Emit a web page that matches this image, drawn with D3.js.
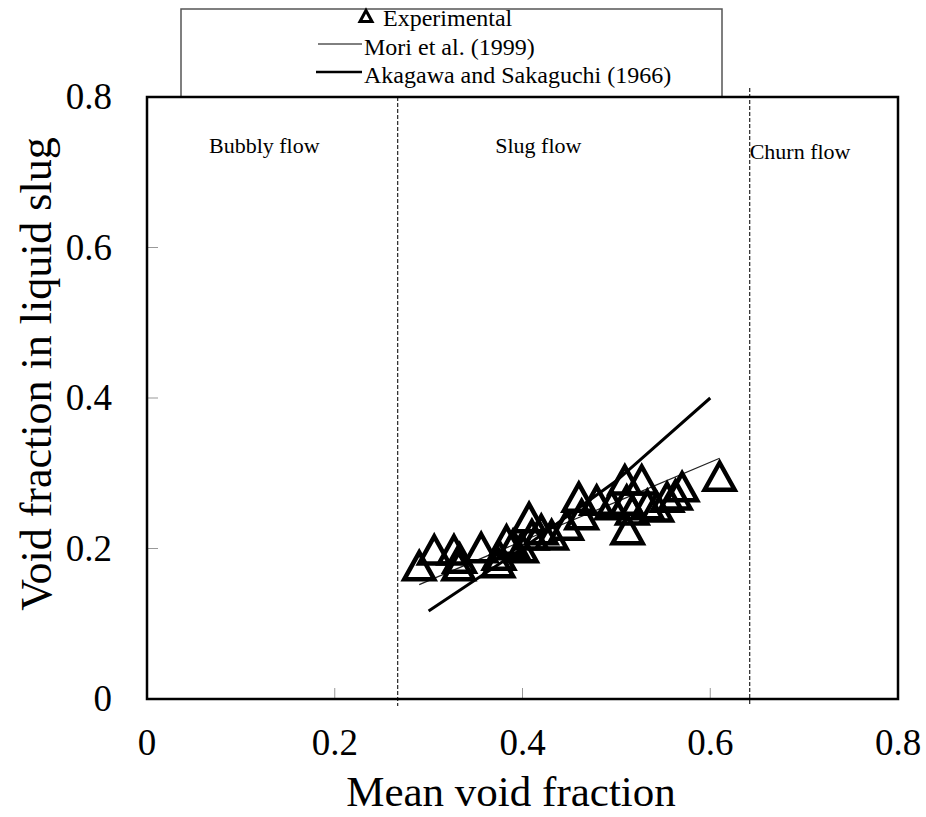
<!DOCTYPE html>
<html>
<head>
    <meta charset="utf-8">
    <title>Void fraction in liquid slug</title>
    <script src="https://d3js.org/d3.v7.min.js"></script>
    <style>
        body { margin: 0; background: #fff; }
    </style>
</head>
<body>
<div id="chart"></div>
<script type="text/javascript">

	// data
	var expX = [0.290, 0.306, 0.327, 0.332, 0.333, 0.356, 0.374, 0.375, 0.383, 0.390,
	            0.399, 0.407, 0.410, 0.420, 0.431, 0.447, 0.460, 0.463, 0.479, 0.495,
	            0.509, 0.511, 0.512, 0.517, 0.527, 0.533, 0.543, 0.554, 0.563, 0.570, 0.610];
	var expY = [0.177, 0.198, 0.198, 0.177, 0.187, 0.201, 0.181, 0.191, 0.211, 0.205,
	            0.201, 0.241, 0.218, 0.225, 0.218, 0.231, 0.268, 0.245, 0.264, 0.258,
	            0.291, 0.264, 0.225, 0.251, 0.291, 0.258, 0.255, 0.268, 0.271, 0.282, 0.296];

	var moriX = [0.29, 0.40, 0.50, 0.61];
	var moriY = [0.152, 0.210, 0.262, 0.320];

	var akaX = [0.30, 0.40, 0.50, 0.60];
	var akaY = [0.117, 0.200, 0.290, 0.400];

	var boundaries = [0.267, 0.642];
	var regionNames = ["Bubbly flow", "Slug flow", "Churn flow"];
	var regionX = [0.066, 0.371, 0.642];
	var regionY = [0.725, 0.725, 0.717];

	var tickVals = [0, 0.2, 0.4, 0.6, 0.8];
	var tickLabels = ["0", "0.2", "0.4", "0.6", "0.8"];

	var legendNames = ["Experimental", "Mori et al. (1999)", "Akagawa and Sakaguchi (1966)"];

	var W = 926, H = 817;
	var margin = {left: 147, right: 28, top: 97, bottom: 118};
	var serif = "'Liberation Serif', 'Times New Roman', Times, 'DejaVu Serif', serif";

	var svg = d3.select("#chart").append("svg")
		.attr("width", W).attr("height", H)
		.attr("font-family", serif)
		.style("font-family", serif);

	var x = d3.scaleLinear().domain([0, 0.8]).range([margin.left, W - margin.right]);
	var y = d3.scaleLinear().domain([0, 0.8]).range([H - margin.bottom, margin.top]);

	// legend box (sits on top of the plot frame)
	svg.append("rect")
		.attr("x", 181).attr("y", 9)
		.attr("width", 541).attr("height", 88)
		.attr("fill", "#fff").attr("stroke", "#555").attr("stroke-width", 1.5);

	// triangle marker, centred on its bounding box
	function tri(cx, cy, w, h) {
		return "M" + cx + "," + (cy - h / 2) +
			"L" + (cx + w / 2) + "," + (cy + h / 2) +
			"L" + (cx - w / 2) + "," + (cy + h / 2) + "Z";
	}

	var legend = svg.append("g");
	legend.append("path")
		.attr("d", tri(366, 16, 12, 11))
		.attr("fill", "none").attr("stroke", "#000").attr("stroke-width", 3);
	legend.append("line")
		.attr("x1", 318).attr("x2", 362).attr("y1", 44).attr("y2", 44)
		.attr("stroke", "#000").attr("stroke-width", 1);
	legend.append("line")
		.attr("x1", 316).attr("x2", 362).attr("y1", 72).attr("y2", 72)
		.attr("stroke", "#000").attr("stroke-width", 2.5);
	legend.selectAll("text")
		.data(legendNames)
		.enter()
		.append("text")
		.attr("x", function(d, i){ return i == 0 ? 383 : 364; })
		.attr("y", function(d, i){ return 26 + i * 28.5; })
		.style("font-size", "24px")
		.text(function(d){ return d; });

	// inner tick marks
	var inner = [0.2, 0.4, 0.6];
	svg.append("g").selectAll("line")
		.data(inner).enter().append("line")
		.attr("x1", function(d){ return x(d); }).attr("x2", function(d){ return x(d); })
		.attr("y1", y(0)).attr("y2", y(0) - 11)
		.attr("stroke", "#999").attr("stroke-width", 1);
	svg.append("g").selectAll("line")
		.data(inner).enter().append("line")
		.attr("y1", function(d){ return y(d); }).attr("y2", function(d){ return y(d); })
		.attr("x1", x(0)).attr("x2", x(0) + 11)
		.attr("stroke", "#999").attr("stroke-width", 1);

	// flow regime boundaries
	svg.append("g").selectAll("line")
		.data(boundaries).enter().append("line")
		.attr("x1", function(d){ return x(d); }).attr("x2", function(d){ return x(d); })
		.attr("y1", function(d, i){ return i == 0 ? y(0.8) : y(0.8) - 9; })
		.attr("y2", y(0) + 7)
		.attr("stroke", "#333").attr("stroke-width", 1.3)
		.attr("stroke-dasharray", "4,2");

	svg.append("g").selectAll("text")
		.data(regionNames).enter().append("text")
		.attr("x", function(d, i){ return x(regionX[i]); })
		.attr("y", function(d, i){ return y(regionY[i]); })
		.style("font-size", "22px")
		.text(function(d){ return d; });

	// plot frame
	svg.append("rect")
		.attr("x", x(0)).attr("y", y(0.8))
		.attr("width", x(0.8) - x(0)).attr("height", y(0) - y(0.8))
		.attr("fill", "none").attr("stroke", "#000").attr("stroke-width", 2.5);

	// correlation lines
	var line = d3.line()
		.x(function(d){ return x(d[0]); })
		.y(function(d){ return y(d[1]); });

	svg.append("path")
		.attr("d", line(d3.zip(moriX, moriY)))
		.attr("fill", "none").attr("stroke", "#222").attr("stroke-width", 1.2);
	svg.append("path")
		.attr("d", line(d3.zip(akaX, akaY)))
		.attr("fill", "none").attr("stroke", "#000").attr("stroke-width", 3);

	// experimental points
	svg.append("g").selectAll("path")
		.data(d3.zip(expX, expY)).enter().append("path")
		.attr("d", function(d){ return tri(x(d[0]), y(d[1]), 30, 27); })
		.attr("fill", "none").attr("stroke", "#000").attr("stroke-width", 4.5)
		.attr("stroke-linejoin", "miter");

	// tick labels
	svg.append("g").selectAll("text")
		.data(tickVals).enter().append("text")
		.attr("x", function(d){ return x(d); })
		.attr("y", y(0) + 56)
		.attr("text-anchor", "middle")
		.style("font-size", "37px")
		.text(function(d, i){ return tickLabels[i]; });
	svg.append("g").selectAll("text")
		.data(tickVals).enter().append("text")
		.attr("x", 112)
		.attr("y", function(d){ return y(d) + 12; })
		.attr("text-anchor", "end")
		.style("font-size", "37px")
		.text(function(d, i){ return tickLabels[i]; });

	// axis titles
	svg.append("text")
		.attr("x", 511).attr("y", 806)
		.attr("text-anchor", "middle")
		.style("font-size", "43px")
		.text("Mean void fraction");
	svg.append("text")
		.attr("transform", "translate(51,374) rotate(-90)")
		.attr("text-anchor", "middle")
		.style("font-size", "44px")
		.text("Void fraction in liquid slug");

</script>
</body>
</html>
